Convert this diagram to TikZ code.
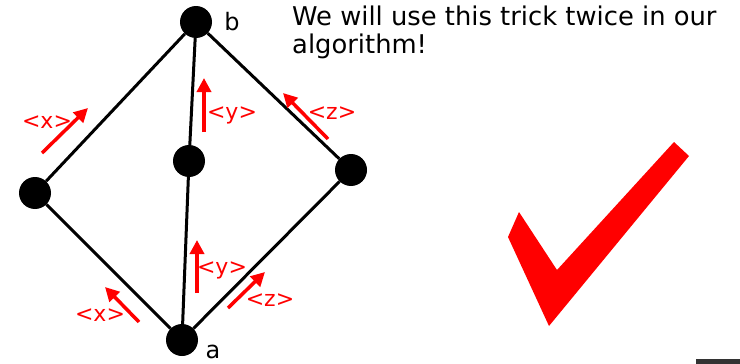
\documentclass[tikz,border=0pt]{standalone}
\usepackage{fontspec}
\setmainfont{DejaVu Sans}
\usetikzlibrary{arrows.meta}
\definecolor{barg}{HTML}{333333}
\tikzset{
  dot/.style={circle,fill=black,inner sep=0pt,minimum size=32pt},
  edge/.style={line width=3pt,black},
  flow/.style={line width=3.5pt,red,-{Triangle[length=14pt,width=14pt]}},
  lab/.style={red,font=\fontsize{22}{26}\selectfont,inner sep=0pt},
  vlab/.style={black,font=\fontsize{24}{28}\selectfont,inner sep=0pt},
  note/.style={black,font=\fontsize{25.8}{30}\selectfont,inner sep=0pt,anchor=base west}
}
\begin{document}
\begin{tikzpicture}[x=1pt,y=-1pt]
\useasboundingbox (0,0) rectangle (740,364);
% vertices
\node[dot] (b) at (196,22) {};
\node[dot] (l) at (35,193) {};
\node[dot] (m) at (189,161) {};
\node[dot] (r) at (351,170) {};
\node[dot] (a) at (182,340) {};
% edges
\draw[edge] (b) -- (l);
\draw[edge] (b) -- (m);
\draw[edge] (b) -- (r);
\draw[edge] (l) -- (a);
\draw[edge] (m) -- (a);
\draw[edge] (r) -- (a);
% vertex labels
\node[vlab] (lb) at (232,22) {b};
\node[vlab] (la) at (213,352) {a};
% arrow endpoints
\coordinate (x1s) at (42,153); \coordinate (x1e) at (88,108);
\coordinate (y1s) at (204,132); \coordinate (y1e) at (204,78);
\coordinate (z1s) at (328,139); \coordinate (z1e) at (283,93);
\coordinate (y2s) at (197,293); \coordinate (y2e) at (197,240);
\coordinate (z2s) at (228,308); \coordinate (z2e) at (265,272);
\coordinate (x2s) at (139,322); \coordinate (x2e) at (105,287);
\draw[flow] (x1s) -- (x1e);
\draw[flow] (y1s) -- (y1e);
\draw[flow] (z1s) -- (z1e);
\draw[flow] (y2s) -- (y2e);
\draw[flow] (z2s) -- (z2e);
\draw[flow] (x2s) -- (x2e);
% arrow labels
\node[lab] (tx1) at (47,122) {<x>};
\node[lab] (ty1) at (232,115) {<y>};
\node[lab] (tz1) at (332,113) {<z>};
\node[lab] (ty2) at (222,270) {<y>};
\node[lab] (tz2) at (270,300) {<z>};
\node[lab] (tx2) at (100,315) {<x>};
% note
\node[note] (n1) at (292,25) {We will use this trick twice in our};
\node[note] (n2) at (292,53) {algorithm!};
% check mark
\fill[red] (519,212) -- (508,237) -- (549,326) -- (689,156) -- (674,142) -- (557,270) -- cycle;
% bar
\fill[barg] (696,359) rectangle (740,364);
\end{tikzpicture}
\end{document}
